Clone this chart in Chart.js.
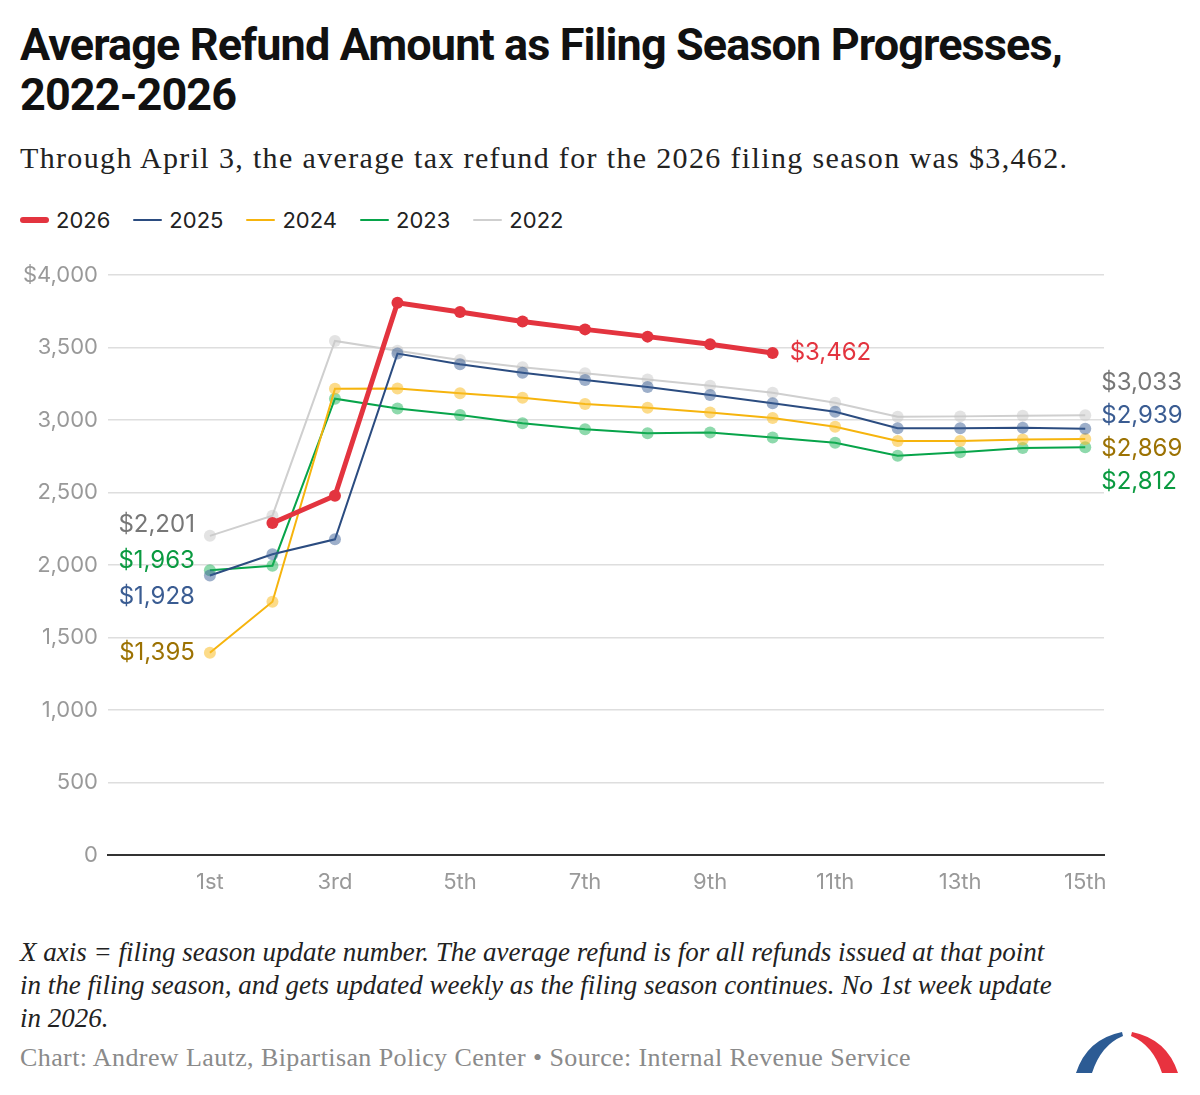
<!DOCTYPE html>
<html>
<head>
<meta charset="utf-8">
<script src="https://cdn.jsdelivr.net/npm/chart.js@4.4.1/dist/chart.umd.min.js"></script>
<style>
  body { margin: 0; background: #fff; width: 1200px; height: 1095px; position: relative; overflow: hidden; }
  .title { position: absolute; left: 20px; top: 20px; font-family: Roboto, "Liberation Sans", sans-serif; font-weight: 700; font-size: 45px; line-height: 50px; letter-spacing: -0.9px; color: #111; }
  .subtitle { position: absolute; left: 20px; top: 141px; font-family: "Liberation Serif", serif; font-size: 30px; letter-spacing: 1.35px; color: #222; }
  .legend { position: absolute; left: 20px; top: 207px; font-family: Inter, "Noto Sans", sans-serif; font-size: 22px; color: #222; display: flex; }
  .legend span.item { display: flex; align-items: center; margin-right: 23px; }
  .legend span.sw { display: inline-block; width: 29px; margin-right: 7px; border-radius: 3px; }
  #wrap { position: absolute; left: 0; top: 250px; width: 1200px; height: 660px; }
  .note { position: absolute; left: 20px; top: 936px; width: 1050px; font-family: "Liberation Serif", serif; font-style: italic; font-size: 27px; line-height: 33px; color: #222; }
  .source { position: absolute; left: 20px; top: 1043px; font-family: "Liberation Serif", serif; font-size: 26px; letter-spacing: 0.4px; color: #8a8a8a; }
  svg.logo { position: absolute; left: 1060px; top: 1015px; }
</style>
</head>
<body>
<div class="title">Average Refund Amount as Filing Season Progresses,<br>2022-2026</div>
<div class="subtitle">Through April 3, the average tax refund for the 2026 filing season was $3,462.</div>
<div class="legend" id="legend"></div>
<div id="wrap"><canvas id="chart"></canvas></div>
<div class="note">X axis = filing season update number. The average refund is for all refunds issued at that point in the filing season, and gets updated weekly as the filing season continues. No 1st week update in 2026.</div>
<div class="source">Chart: Andrew Lautz, Bipartisan Policy Center • Source: Internal Revenue Service</div>
<svg class="logo" width="140" height="75">
  <path d="M16,58 Q27,24 62,17 L63,21 Q41,30 32,58 Z" fill="#2c5b94"/>
  <path d="M118,58 Q107,24 72,17 L71,21 Q93,30 102,58 Z" fill="#e8323f"/>
</svg>
<script>
// filing season update number
const updates = [1, 2, 3, 4, 5, 6, 7, 8, 9, 10, 11, 12, 13, 14, 15];
const tickUpdates = [1, 3, 5, 7, 9, 11, 13, 15];
const tickLabels = ["1st", "3rd", "5th", "7th", "9th", "11th", "13th", "15th"];

// average refund, dollars (null = no update)
const refund2026 = [null, 2290, 2478, 3808, 3745, 3680, 3625, 3575, 3522, 3462, null, null, null, null, null];
const refund2025 = [1928, 2074, 2177, 3458, 3384, 3326, 3276, 3228, 3172, 3115, 3057, 2943, 2943, 2946, 2939];
const refund2024 = [1395, 1747, 3216, 3218, 3184, 3154, 3110, 3085, 3051, 3014, 2954, 2855, 2855, 2866, 2869];
const refund2023 = [1963, 1995, 3147, 3080, 3034, 2977, 2936, 2908, 2914, 2880, 2843, 2754, 2777, 2807, 2812];
const refund2022 = [2201, 2340, 3545, 3478, 3414, 3363, 3322, 3280, 3237, 3188, 3119, 3022, 3025, 3030, 3033];

const fmt = v => "$" + v.toLocaleString("en-US");

const series = [
  { label: "2026", data: refund2026, color: "#e3343f", text: "#e3343f", width: 5, pt: "#e3343f" },
  { label: "2025", data: refund2025, color: "#2b4c80", text: "#3a5c92", width: 2, pt: "rgba(60,95,150,0.5)" },
  { label: "2024", data: refund2024, color: "#f6b40d", text: "#9c7203", width: 2, pt: "rgba(250,190,40,0.55)" },
  { label: "2023", data: refund2023, color: "#07a44a", text: "#0a9a40", width: 2, pt: "rgba(30,180,90,0.5)" },
  { label: "2022", data: refund2022, color: "#cfcfcf", text: "#777777", width: 2, pt: "rgba(200,200,200,0.5)" }
];

// legend
const legendEl = document.getElementById("legend");
series.forEach(s => {
  const item = document.createElement("span");
  item.className = "item";
  item.innerHTML = '<span class="sw" style="height:' + (s.width === 5 ? 6 : 2) + 'px;background:' + s.color + '"></span>' + s.label;
  legendEl.appendChild(item);
});

// spread labels vertically so they don't overlap
function dodge(items, gap) {
  items.sort((a, b) => a.y - b.y);
  let groups = items.map(it => ({ members: [it], y: it.y }));
  let moved = true;
  while (moved) {
    moved = false;
    for (let i = 0; i < groups.length - 1; i++) {
      const a = groups[i], b = groups[i + 1];
      const aBottom = a.y + (a.members.length - 1) * gap / 2;
      const bTop = b.y - (b.members.length - 1) * gap / 2;
      if (bTop - aBottom < gap) {
        const members = a.members.concat(b.members);
        const mean = members.reduce((t, m) => t + m.y, 0) / members.length;
        groups.splice(i, 2, { members, y: mean });
        moved = true;
        break;
      }
    }
  }
  groups.forEach(g => {
    const n = g.members.length;
    g.members.forEach((m, k) => { m.ly = g.y + (k - (n - 1) / 2) * gap; });
  });
  return items;
}

const endLabels = {
  id: "endLabels",
  afterDatasetsDraw(chart) {
    const ctx = chart.ctx, x = chart.scales.x, y = chart.scales.y;
    ctx.save();
    ctx.font = "24px Inter, 'Noto Sans', sans-serif";
    ctx.textBaseline = "middle";

    // first values (left side)
    const left = [];
    series.forEach(s => {
      const i = s.data.findIndex(v => v !== null);
      if (i === 0) left.push({ s, v: s.data[i], y: y.getPixelForValue(s.data[i]) });
    });
    dodge(left, 36).forEach(it => {
      ctx.fillStyle = it.s.text;
      ctx.textAlign = "right";
      ctx.fillText(fmt(it.v), x.getPixelForValue(updates[0]) - 15, it.ly);
    });

    // last values (right side)
    const right = [];
    series.forEach(s => {
      let i = s.data.length - 1;
      while (s.data[i] === null) i--;
      const item = { s, v: s.data[i], i, y: y.getPixelForValue(s.data[i]) };
      if (i === updates.length - 1) right.push(item);
      else {
        ctx.fillStyle = s.text;
        ctx.textAlign = "left";
        ctx.fillText(fmt(item.v), x.getPixelForValue(updates[i]) + 17, item.y);
      }
    });
    dodge(right, 33).forEach(it => {
      ctx.fillStyle = it.s.text;
      ctx.textAlign = "left";
      ctx.fillText(fmt(it.v), x.getPixelForValue(updates[it.i]) + 16, it.ly);
    });
    ctx.restore();
  }
};

new Chart(document.getElementById("chart").getContext("2d"), {
  type: "line",
  data: {
    datasets: series.map(s => ({
      label: s.label,
      data: updates.map((u, i) => ({ x: u, y: s.data[i] })),
      borderColor: s.color,
      borderWidth: s.width,
      pointRadius: 6,
      pointHoverRadius: 6,
      pointBackgroundColor: s.pt,
      pointBorderWidth: 0,
      tension: 0,
      spanGaps: false
    }))
  },
  options: {
    responsive: true,
    maintainAspectRatio: false,
    animation: false,
    layout: { padding: { top: 25, right: 96, bottom: 0, left: 0 } },
    plugins: { legend: { display: false }, tooltip: { enabled: false } },
    scales: {
      x: {
        type: "linear",
        min: -0.63,
        max: 15.3,
        afterBuildTicks: axis => { axis.ticks = tickUpdates.map(v => ({ value: v })); },
        afterFit: axis => { axis.height = 55; },
        ticks: {
          callback: v => tickLabels[tickUpdates.indexOf(v)],
          color: "#999",
          font: { family: "Inter, 'Noto Sans', sans-serif", size: 22 },
          padding: 6,
          maxRotation: 0
        },
        grid: { display: false },
        border: { color: "#333", width: 2 }
      },
      y: {
        min: 0,
        max: 4000,
        afterFit: axis => { axis.width = 108; },
        ticks: {
          stepSize: 500,
          callback: v => v === 4000 ? "$4,000" : v.toLocaleString("en-US"),
          color: "#999",
          font: { family: "Inter, 'Noto Sans', sans-serif", size: 22 },
          padding: 10
        },
        grid: { color: "#dedede", lineWidth: 1.5, drawTicks: false },
        border: { display: false }
      }
    }
  },
  plugins: [endLabels]
});
</script>
</body>
</html>
